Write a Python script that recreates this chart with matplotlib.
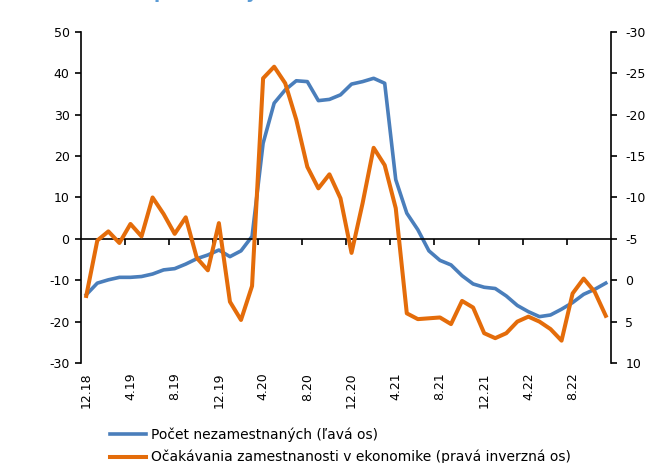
import numpy as np
import matplotlib
matplotlib.use('Agg')
import matplotlib.pyplot as plt

BLUE = '#4A7EBB'
ORANGE = '#E46C0A'
TITLE_BLUE = '#5B9BD5'

plt.rcParams.update({
    'font.family': ['DejaVu Sans'],
    'font.size': 9,
    'axes.unicode_minus': False,
})

# monthly data 12.18 .. 11.22
unemployed = [-13.5, -10.7, -9.9, -9.3, -9.3, -9.1, -8.5, -7.5, -7.2, -6.1,
              -4.8, -3.9, -2.7, -4.3, -2.9, 0.6, 23.1, 32.8, 36.0, 38.2,
              38.0, 33.4, 33.7, 34.8, 37.4, 38.0, 38.8, 37.6, 14.3, 6.2,
              2.2, -2.9, -5.2, -6.3, -8.9, -10.9, -11.7, -12.0, -13.8, -16.1,
              -17.6, -18.8, -18.4, -17.0, -15.4, -13.4, -12.2, -10.7]
expectations = [1.9, -4.8, -5.9, -4.5, -6.8, -5.3, -10.0, -8.0, -5.6, -7.6,
                -2.7, -1.2, -6.9, 2.6, 4.8, 0.7, -24.4, -25.8, -23.8, -19.4,
                -13.7, -11.1, -12.8, -9.9, -3.3, -9.3, -16.0, -13.9, -8.7, 4.0,
                4.7, 4.6, 4.5, 5.3, 2.5, 3.3, 6.4, 7.0, 6.4, 5.0,
                4.4, 5.0, 5.9, 7.3, 1.6, -0.2, 1.4, 4.3]
month_labels = ['12.18', '4.19', '8.19', '12.19', '4.20', '8.20',
                '12.20', '4.21', '8.21', '12.21', '4.22', '8.22']
label_step = 4

legend_labels = ['Počet nezamestnaných (ľavá os)',
                 'Očakávania zamestnanosti v ekonomike (pravá inverzná os)']

x = np.arange(len(unemployed))

fig = plt.figure(figsize=(6.51, 4.63), dpi=100)
ax = fig.add_axes([0.124, 0.216, 0.815, 0.715])
ax2 = ax.twinx()

l1, = ax.plot(x, unemployed, color=BLUE, linewidth=2.6, solid_joinstyle='round')
l2, = ax2.plot(x, expectations, color=ORANGE, linewidth=2.9, solid_joinstyle='round')

ax.set_xlim(-0.5, len(x) - 0.5)
ax.set_ylim(-30, 50)
ax.set_yticks(np.arange(-30, 51, 10))
ax2.set_ylim(10, -30)
ax2.set_yticks(np.arange(-30, 11, 5))

# zero line acts as the category axis
ax.spines['bottom'].set_position(('data', 0))
ax.spines['bottom'].set_linewidth(1.2)
ax.spines['top'].set_visible(False)
ax.spines['right'].set_visible(False)
ax.spines['left'].set_linewidth(1.2)
for s in ['top', 'bottom', 'left']:
    ax2.spines[s].set_visible(False)
ax2.spines['right'].set_linewidth(1.2)

bounds = np.arange(label_step - 0.5, len(x) - 1, label_step)
ax.set_xticks(bounds)
ax.set_xticklabels([])
ax.tick_params(axis='x', direction='out', length=4, width=1.2)
ax.tick_params(axis='y', direction='out', length=4, width=1.2, pad=4, labelsize=9)
ax2.tick_params(axis='y', direction='out', length=4, width=1.2, pad=6, labelsize=9)

sec = ax.secondary_xaxis(0.0)
sec.set_xticks(x[::label_step][:len(month_labels)], month_labels, rotation=90)
sec.tick_params(length=0, pad=7, labelsize=9)
sec.spines['bottom'].set_visible(False)

fig.legend([l1, l2], legend_labels, loc='upper left',
           bbox_to_anchor=(0.16, 0.088), frameon=False, fontsize=10,
           handlelength=2.6, handletextpad=0.35, labelspacing=0.55,
           borderaxespad=0)

# cut-off title above the chart
fig.text(160 / 651, 1.0 + 1.5 / 463, 'p', color=TITLE_BLUE, fontsize=13,
         fontweight='bold', ha='center', va='baseline')
fig.text(252 / 651, 1.0 + 1.5 / 463, 'y', color=TITLE_BLUE, fontsize=13,
         fontweight='bold', ha='center', va='baseline')

fig.savefig('out.png', dpi=100)
